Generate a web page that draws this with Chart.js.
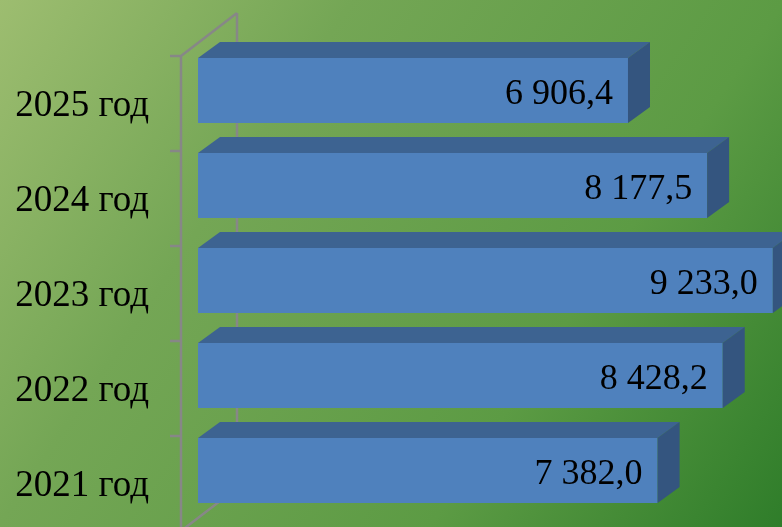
<!DOCTYPE html>
<html>
<head>
<meta charset="utf-8">
<script src="https://cdn.jsdelivr.net/npm/chart.js@4"></script>
<style>
  html, body { margin: 0; padding: 0; background: #6a9f4c; }
  #wrap { width: 782px; height: 527px; }
</style>
</head>
<body>
<div id="wrap"><canvas id="budgetChart" width="782" height="527"></canvas></div>
<script>
// data
const years = ["2025 год", "2024 год", "2023 год", "2022 год", "2021 год"];
const amounts = [6906.4, 8177.5, 9233.0, 8428.2, 7382.0];
const amountLabels = ["6 906,4", "8 177,5", "9 233,0", "8 428,2", "7 382,0"];

const color = {
  front: "#4f81bd",
  top: "#3d6391",
  side: "#34557f",
  axis: "#878787",
  text: "#000000"
};

const valueFont = '36px "Liberation Serif", "Times New Roman", serif';
const yearFont = '37px "Liberation Serif", "Times New Roman", serif';
const depth = { x: 22, y: -16 };      // bar depth
const floor = { x: 56, y: -43 };      // full chart depth

// green gradient background
const backgroundPlugin = {
  id: "background",
  beforeDraw(chart) {
    const ctx = chart.ctx;
    const g = ctx.createLinearGradient(0, 0, chart.width, chart.height);
    g.addColorStop(0, "#9dbd70");
    g.addColorStop(0.31, "#74a655");
    g.addColorStop(0.69, "#5c9b44");
    g.addColorStop(1, "#2f7d2a");
    ctx.save();
    ctx.fillStyle = g;
    ctx.fillRect(0, 0, chart.width, chart.height);
    ctx.restore();
  }
};

// 3d axis frame and category labels
const framePlugin = {
  id: "frame",
  beforeDatasetsDraw(chart) {
    const ctx = chart.ctx;
    const area = chart.chartArea;
    const step = (area.bottom - area.top) / years.length;
    const frontX = area.left - 17;
    const top = area.top + 13;
    const bottom = top + step * years.length;
    ctx.save();
    ctx.strokeStyle = color.axis;
    ctx.lineWidth = 2.5;
    ctx.beginPath();
    // front vertical
    ctx.moveTo(frontX, top);
    ctx.lineTo(frontX, bottom);
    // back vertical
    ctx.moveTo(frontX + floor.x, top + floor.y);
    ctx.lineTo(frontX + floor.x, bottom + floor.y);
    // diagonals
    ctx.moveTo(frontX, top);
    ctx.lineTo(frontX + floor.x, top + floor.y);
    ctx.moveTo(frontX, bottom);
    ctx.lineTo(frontX + floor.x, bottom + floor.y);
    // ticks
    for (let i = 0; i <= years.length; i++) {
      const y = top + step * i;
      ctx.moveTo(frontX - 11, y);
      ctx.lineTo(frontX, y);
    }
    ctx.stroke();

    ctx.fillStyle = color.text;
    ctx.font = yearFont;
    ctx.textAlign = "right";
    ctx.textBaseline = "alphabetic";
    years.forEach((label, i) => {
      const y = top + step * (i + 0.5);
      ctx.fillText(label, 149, y + 12);
    });
    ctx.restore();
  },
  afterDatasetsDraw(chart) {
    const ctx = chart.ctx;
    const bars = chart.getDatasetMeta(0).data;
    ctx.save();
    bars.forEach((bar, i) => {
      const left = bar.base;
      const right = bar.x;
      const t = bar.y - bar.height / 2;
      const b = bar.y + bar.height / 2;
      // top face
      ctx.fillStyle = color.top;
      ctx.beginPath();
      ctx.moveTo(left, t);
      ctx.lineTo(left + depth.x, t + depth.y);
      ctx.lineTo(right + depth.x, t + depth.y);
      ctx.lineTo(right, t);
      ctx.closePath();
      ctx.fill();
      // side face
      ctx.fillStyle = color.side;
      ctx.beginPath();
      ctx.moveTo(right, t);
      ctx.lineTo(right + depth.x, t + depth.y);
      ctx.lineTo(right + depth.x, b + depth.y);
      ctx.lineTo(right, b);
      ctx.closePath();
      ctx.fill();
      // value
      ctx.fillStyle = color.text;
      ctx.font = valueFont;
      ctx.textAlign = "right";
      ctx.textBaseline = "alphabetic";
      ctx.fillText(amountLabels[i], right - 15, bar.y + 13);
    });
    ctx.restore();
  }
};

new Chart(document.getElementById("budgetChart").getContext("2d"), {
  type: "bar",
  data: {
    labels: years,
    datasets: [
      {
        label: "amount",
        data: amounts,
        backgroundColor: color.front,
        borderWidth: 0,
        barPercentage: 0.684,
        categoryPercentage: 1,
        clip: false
      }
    ]
  },
  options: {
    indexAxis: "y",
    responsive: false,
    animation: false,
    layout: { padding: { left: 198, right: 0, top: 43, bottom: 9 } },
    plugins: {
      legend: { display: false },
      tooltip: { enabled: false }
    },
    scales: {
      x: { display: false, min: 0, max: 9380 },
      y: { display: false }
    }
  },
  plugins: [backgroundPlugin, framePlugin]
});
</script>
</body>
</html>
